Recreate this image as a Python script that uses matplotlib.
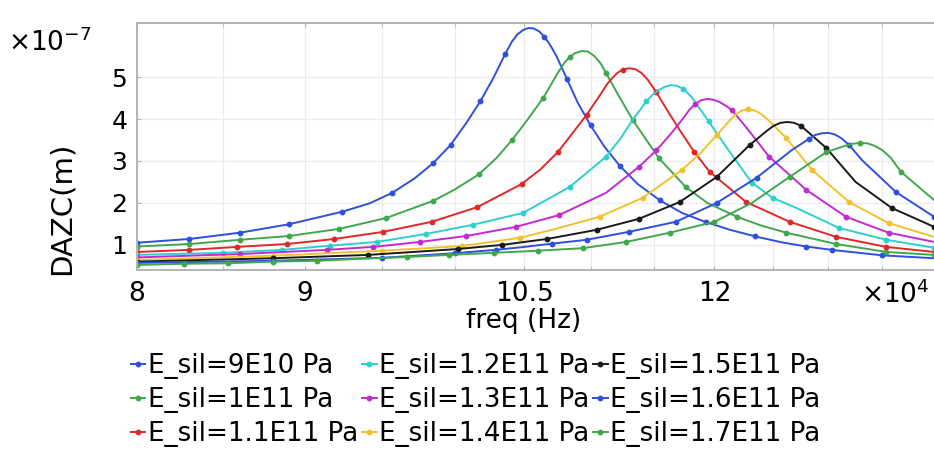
import numpy as np
import matplotlib
matplotlib.use('Agg')
import matplotlib.pyplot as plt
from matplotlib.ticker import FixedLocator, NullFormatter

# freq in units of 1e4 Hz, DAZC in units of 1e-7 m
labels = ['E_sil=9E10 Pa', 'E_sil=1E11 Pa', 'E_sil=1.1E11 Pa',
          'E_sil=1.2E11 Pa', 'E_sil=1.3E11 Pa', 'E_sil=1.4E11 Pa',
          'E_sil=1.5E11 Pa', 'E_sil=1.6E11 Pa', 'E_sil=1.7E11 Pa']
colors = ['#2f4fe0', '#3fa84c', '#e02828', '#2ecfcf', '#c42ad2',
          '#f2c12e', '#1a1a1a', '#2f4fe0', '#3fa84c']

f_90 = [8.0, 8.3, 8.6, 8.9, 9.24, 9.42, 9.57, 9.72, 9.85, 9.97, 10.08, 10.18, 10.27, 10.36,
        10.41, 10.45, 10.49, 10.53, 10.57, 10.61, 10.65, 10.69, 10.74, 10.82, 10.90, 11.0,
        11.11, 11.23, 11.37, 11.55, 11.73, 11.93, 12.13, 12.35, 12.58, 12.8, 13.03, 13.5, 14.0]
d_90 = [1.05, 1.14, 1.29, 1.49, 1.79, 1.99, 2.24, 2.58, 2.95, 3.38, 3.90, 4.42, 4.95, 5.55,
        5.85, 6.02, 6.12, 6.17, 6.16, 6.09, 5.96, 5.78, 5.50, 4.95, 4.40, 3.85,
        3.33, 2.88, 2.45, 2.06, 1.76, 1.54, 1.36, 1.20, 1.06, 0.96, 0.88, 0.75, 0.68]

f_100 = [8.0, 8.3, 8.6, 8.9, 9.22, 9.53, 9.85, 10.0, 10.17, 10.3, 10.41, 10.5, 10.64, 10.75,
         10.80, 10.84, 10.88, 10.93, 10.98, 11.03, 11.08, 11.12, 11.2, 11.33, 11.54, 11.76,
         11.94, 12.19, 12.4, 12.62, 13.07, 13.54, 14.0]
d_100 = [0.96, 1.02, 1.12, 1.21, 1.38, 1.64, 2.05, 2.32, 2.68, 3.08, 3.5, 3.88, 4.5, 5.1,
         5.34, 5.48, 5.57, 5.62, 5.61, 5.50, 5.32, 5.10, 4.66, 3.98, 3.07, 2.38,
         2.0, 1.67, 1.46, 1.29, 1.02, 0.83, 0.76]

f_110 = [8.0, 8.3, 8.58, 8.89, 9.19, 9.51, 9.84, 10.16, 10.48, 10.62, 10.75, 10.97, 11.08,
         11.13, 11.17, 11.21, 11.25, 11.30, 11.35, 11.40, 11.45, 11.52, 11.61, 11.71, 11.83,
         11.96, 12.27, 12.65, 13.07, 13.54, 14.0]
d_110 = [0.83, 0.88, 0.95, 1.02, 1.14, 1.31, 1.55, 1.90, 2.45, 2.80, 3.21, 4.10, 4.60,
         4.84, 4.98, 5.10, 5.18, 5.21, 5.19, 5.10, 4.94, 4.64, 4.20, 3.74, 3.22,
         2.74, 2.02, 1.55, 1.19, 0.95, 0.83]

f_120 = [8.0, 8.5, 8.86, 9.16, 9.47, 9.8, 10.13, 10.49, 10.84, 11.12, 11.23, 11.33, 11.44,
         11.49, 11.54, 11.59, 11.64, 11.69, 11.74, 11.81, 11.95, 12.1, 12.32, 12.5, 12.71,
         13.1, 13.54, 14.0]
d_120 = [0.76, 0.81, 0.88, 0.98, 1.07, 1.26, 1.48, 1.76, 2.38, 3.10, 3.52, 3.98, 4.42,
         4.58, 4.69, 4.77, 4.81, 4.79, 4.72, 4.52, 3.95, 3.33, 2.48, 2.12, 1.88,
         1.40, 1.12, 0.93]

f_130 = [8.0, 8.6, 9.14, 9.44, 9.76, 10.08, 10.44, 10.76, 11.12, 11.38, 11.52, 11.65, 11.74,
         11.79, 11.84, 11.89, 11.94, 11.99, 12.04, 12.10, 12.15, 12.3, 12.47, 12.8, 13.16,
         13.56, 14.0]
d_130 = [0.70, 0.78, 0.88, 0.95, 1.07, 1.21, 1.43, 1.71, 2.24, 2.86, 3.25, 3.69, 4.02,
         4.22, 4.36, 4.45, 4.48, 4.46, 4.41, 4.31, 4.21, 3.70, 3.10, 2.31, 1.67,
         1.29, 1.07]

f_140 = [8.0, 8.8, 9.5, 10.05, 10.47, 10.71, 11.07, 11.41, 11.73, 11.88, 12.02, 12.14, 12.19,
         12.24, 12.29, 12.34, 12.40, 12.46, 12.52, 12.62, 12.85, 13.19, 13.56, 14.0]
d_140 = [0.64, 0.74, 0.86, 0.97, 1.17, 1.36, 1.67, 2.12, 2.79, 3.18, 3.62, 4.0, 4.13,
         4.21, 4.23, 4.21, 4.12, 3.98, 3.82, 3.55, 2.79, 2.02, 1.52, 1.19]

f_150 = [8.0, 8.8, 9.41, 9.71, 10.02, 10.34, 10.67, 11.05, 11.38, 11.71, 12.02, 12.3, 12.45,
         12.51, 12.57, 12.63, 12.69, 12.75, 12.82, 12.98, 13.25, 13.59, 14.0]
d_150 = [0.60, 0.68, 0.76, 0.83, 0.90, 1.00, 1.14, 1.36, 1.62, 2.02, 2.62, 3.38, 3.72,
         3.84, 3.91, 3.93, 3.91, 3.84, 3.68, 3.31, 2.50, 1.88, 1.43]

f_160 = [8.0, 8.8, 9.5, 10.0, 10.29, 10.47, 10.71, 10.97, 11.3, 11.68, 12.02, 12.36, 12.67,
         12.82, 12.88, 12.94, 13.0, 13.06, 13.12, 13.19, 13.31, 13.63, 14.0]
d_160 = [0.57, 0.62, 0.69, 0.80, 0.88, 0.94, 1.03, 1.12, 1.31, 1.55, 2.00, 2.60, 3.26,
         3.52, 3.62, 3.66, 3.67, 3.63, 3.54, 3.38, 3.02, 2.26, 1.67]

f_170 = [8.0, 8.27, 8.53, 8.8, 9.08, 9.37, 9.67, 9.96, 10.28, 10.6, 10.94, 11.28, 11.63,
         12.0, 12.32, 12.65, 12.98, 13.15, 13.22, 13.29, 13.36, 13.43, 13.5, 13.58, 13.68,
         13.85, 14.0]
d_170 = [0.52, 0.55, 0.56, 0.60, 0.62, 0.67, 0.71, 0.76, 0.81, 0.86, 0.92, 1.07, 1.29,
         1.55, 2.00, 2.62, 3.21, 3.36, 3.41, 3.43, 3.42, 3.36, 3.26, 3.08, 2.74,
         2.38, 2.07]

freqs = [f_90, f_100, f_110, f_120, f_130, f_140, f_150, f_160, f_170]
dazc = [d_90, d_100, d_110, d_120, d_130, d_140, d_150, d_160, d_170]

xticks = [8, 9, 10.5, 12]
xtick_labels = ['8', '9', '10.5', '12']
yticks = [1, 2, 3, 4, 5]

plt.rcParams['font.family'] = ['DejaVu Sans']

fig = plt.figure(figsize=(9.34, 4.5), dpi=100)
ax = fig.add_axes([137 / 934, 180 / 450, 1 - 137 / 934, 247 / 450])

for f, d, c, lab in zip(freqs, dazc, colors, labels):
    ax.plot(f, d, color=c, lw=1.4, marker='o', ms=3.2, markevery=0.06, label=lab)

ax.set_xscale('log')
ax.set_xlim(8, 14)
ax.set_ylim(0.4, 6.29)
ax.xaxis.set_major_locator(FixedLocator(xticks))
ax.set_xticklabels(xtick_labels)
ax.xaxis.set_minor_locator(FixedLocator(np.arange(8.5, 14, 0.5)))
ax.xaxis.set_minor_formatter(NullFormatter())
ax.set_yticks(yticks)
ax.grid(True, which='both', color='#ebebeb', lw=0.9)
ax.set_axisbelow(True)

for s in ['left', 'top', 'bottom']:
    ax.spines[s].set_color('#b4b4b4')
    ax.spines[s].set_linewidth(1.4)
ax.spines['right'].set_visible(False)
ax.tick_params(which='both', direction='in', length=3, color='#b4b4b4', top=True)
ax.tick_params(axis='x', labelsize=19, pad=8)
ax.tick_params(axis='y', labelsize=18, pad=7)

fig.text(8 / 934, 1 - 43 / 450, r'$\times$10$^{-7}$', fontsize=19, va='center', ha='left')
fig.text(62 / 934, 1 - 208 / 450, 'DAZC(m)', fontsize=21, rotation=90, va='center', ha='center')
fig.text(524 / 934, 1 - 321 / 450, 'freq (Hz)', fontsize=19, va='center', ha='center')
fig.text(861 / 934, 1 - 295 / 450, r'$\times$10$^{4}$', fontsize=19, va='center', ha='left')

fig.legend(loc='upper left', bbox_to_anchor=(131 / 934, 1 - 353 / 450), ncol=3, frameon=False,
           fontsize=18.8, handlelength=0.55, handletextpad=0.1, columnspacing=0.15,
           labelspacing=0.31, borderaxespad=0, borderpad=0)

fig.savefig('out.png', dpi=100)
